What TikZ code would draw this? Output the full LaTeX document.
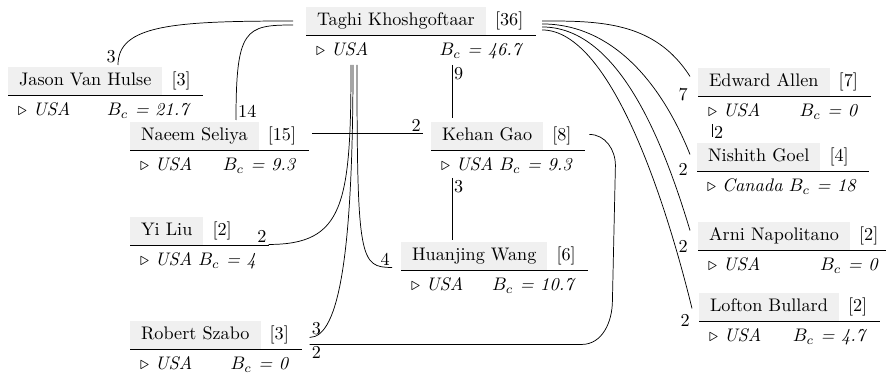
\documentclass[tikz,border=0pt]{standalone}
\usetikzlibrary{calc}
\definecolor{namebg}{gray}{0.94}
\setlength{\fboxsep}{1.6pt}
% name box with paper count, rule, then country and centrality
\newcommand{\authorcard}[4]{%
  \begin{tabular}{@{}l@{\hspace{7pt}}}
    \colorbox{namebg}{\strut\hspace{4.5pt}#1\hspace{4.5pt}}\hspace{5pt}[#2]\\\hline
    \rule{0pt}{11pt}\hspace{5.5pt}$\triangleright$ \textit{#3} \hfill\textit{$B_c$ = #4}
  \end{tabular}}

\begin{document}
\begin{tikzpicture}[x=0.55pt,y=0.55pt,
  card/.style={anchor=north west,inner sep=0pt,outer sep=0pt},
  wt/.style={inner sep=1pt}]
  \useasboundingbox (0,0) rectangle (886,376);
  % Authors
  \node[card] (taghi) at (306,369) {\authorcard{Taghi Khoshgoftaar}{36}{USA}{46.7}};
  \node[card] (jason) at (8,309) {\authorcard{Jason Van Hulse}{3}{USA}{21.7}};
  \node[card] (naeem) at (130,254) {\authorcard{Naeem Seliya}{15}{USA}{9.3}};
  \node[card] (kehan) at (431,254) {\authorcard{Kehan Gao}{8}{USA}{9.3}};
  \node[card] (yiliu) at (130,159) {\authorcard{Yi Liu}{2}{USA}{4}};
  \node[card] (huanjing) at (401,134) {\authorcard{Huanjing Wang}{6}{USA}{10.7}};
  \node[card] (robert) at (130,55) {\authorcard{Robert Szabo}{3}{USA}{0}};
  \node[card] (edward) at (698,308) {\authorcard{Edward Allen}{7}{USA}{0}};
  \node[card] (nishith) at (697,233) {\authorcard{Nishith Goel}{4}{Canada}{18}};
  \node[card] (arni) at (698,154) {\authorcard{Arni Napolitano}{2}{USA}{0}};
  \node[card] (lofton) at (699,83) {\authorcard{Lofton Bullard}{2}{USA}{4.7}};
  % Links into Taghi from the left
  \draw ($(jason.north west)+(110,2)$) node[wt,above left]{3}
    .. controls +(0,40) and +(-120,0) .. ($(taghi.north west)+(-13,-14)$);
  \draw ($(naeem.north west)+(106,2)$) node[wt,above right]{14}
    .. controls +(0,91) and +(-48,0) .. ($(taghi.north west)+(-13,-18)$);
  % Straight links
  \draw ($(kehan.north west |- taghi.south)+(21,-3)$) node[wt,below right]{9}
    -- ($(kehan.north west)+(21,4)$);
  \draw ($(kehan.south west)+(21,-1)$) node[wt,below right]{3}
    -- ($(huanjing.north west)+(51,2)$);
  \draw ($(naeem.east)+(3,16)$) -- ($(kehan.west)+(-8,16)$) node[wt,above left]{2};
  \draw ($(edward.south west)+(14,-1)$) node[wt,below right]{2}
    -- ($(nishith.north west)+(15,6)$);
  % Links down from Taghi
  \draw (yiliu.east) node[wt,above left]{2}
    .. controls +(75,0) and +(0,-140) .. ($(taghi.south west)+(45,-3)$);
  \draw ($(taghi.south west)+(47,-3)$)
    .. controls +(0,-185) and +(30,0) .. ($(robert.east)+(8,11)$) node[wt,above right]{3};
  \draw ($(taghi.south west)+(51,-3)$)
    .. controls +(0,-195) and +(-32,0) .. ($(huanjing.west)+(-9,2)$) node[wt,above left]{4};
  % Kehan to Robert
  \draw ($(kehan.east)+(4,15)$) to[out=0,in=90] ++(26,-31) -- ++(-3,-135)
    to[out=-90,in=0] ($(robert.east)+(280,4)$) -- ($(robert.east)+(8,4)$) node[wt,below right]{2};
  % Links out of Taghi to the right
  \draw ($(taghi.east)+(6,13.5)$) .. controls +(58,0) and +(-35,55) .. ($(edward.west)+(-8,19)$)
    node[wt,anchor=north east,yshift=-5.5pt]{7};
  \draw ($(taghi.east)+(6,10.5)$) .. controls +(68,0) and +(-30,75) .. ($(nishith.west)+(-7,16)$)
    node[wt,anchor=north east,yshift=-3.5pt]{2};
  \draw ($(taghi.east)+(6,7.5)$) .. controls +(73,0) and +(-30,100) .. ($(arni.west)+(-8,19)$)
    node[wt,anchor=north east,yshift=-4pt]{2};
  \draw ($(taghi.east)+(6,4.5)$) .. controls +(68,0) and +(-27,110) .. ($(lofton.west)+(-7,12)$)
    node[wt,anchor=north east,yshift=-2pt]{2};
\end{tikzpicture}
\end{document}
